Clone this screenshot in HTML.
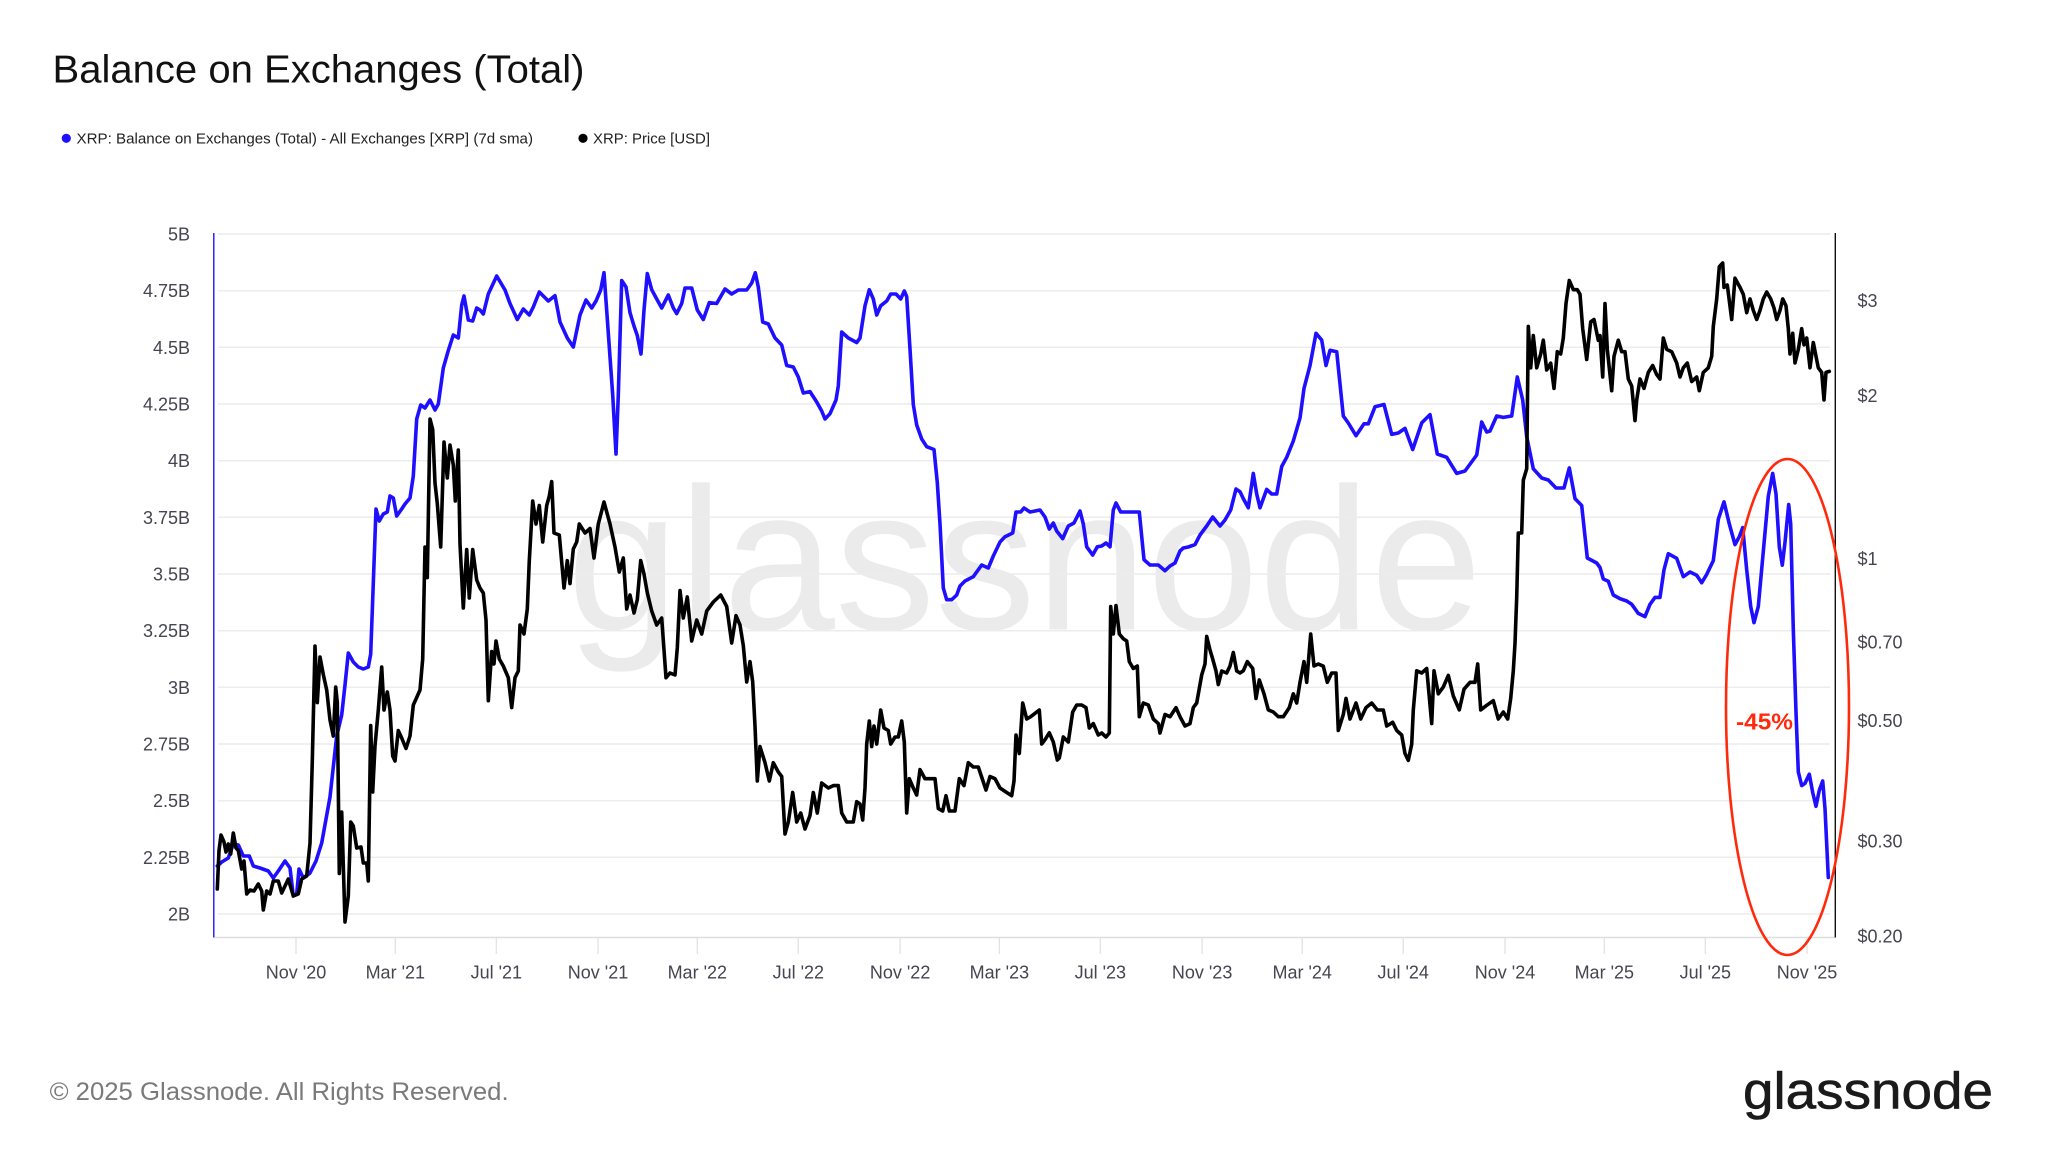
<!DOCTYPE html>
<html>
<head>
<meta charset="utf-8">
<style>
  html,body{margin:0;padding:0;background:#fff;}
  svg{display:block;}
  text{font-family:"Liberation Sans",Arial,sans-serif;}
</style>
</head>
<body>
<svg width="2048" height="1152" viewBox="0 0 2048 1152" xmlns="http://www.w3.org/2000/svg">
  <rect x="0" y="0" width="2048" height="1152" fill="#ffffff"/>

  <!-- Title -->
  <text x="52.5" y="82.7" font-size="39" fill="#111111" textLength="532" lengthAdjust="spacingAndGlyphs">Balance on Exchanges (Total)</text>

  <!-- Legend -->
  <circle cx="66.3" cy="138.3" r="4.6" fill="#1f0fff"/>
  <text x="76.5" y="143.7" font-size="15" fill="#222222" textLength="456.5" lengthAdjust="spacingAndGlyphs">XRP: Balance on Exchanges (Total) - All Exchanges [XRP] (7d sma)</text>
  <circle cx="583" cy="138.3" r="4.6" fill="#000000"/>
  <text x="593" y="143.7" font-size="15" fill="#222222" textLength="117" lengthAdjust="spacingAndGlyphs">XRP: Price [USD]</text>

  <!-- Watermark -->
  <text x="567" y="629.5" font-size="203" fill="#ebebeb" textLength="915" lengthAdjust="spacingAndGlyphs">glassnode</text>

  <!-- Gridlines -->
  <g stroke="#ececec" stroke-width="1.5">
    <line x1="218" y1="234" x2="1830" y2="234"/>
    <line x1="218" y1="290.7" x2="1830" y2="290.7"/>
    <line x1="218" y1="347.3" x2="1830" y2="347.3"/>
    <line x1="218" y1="404" x2="1830" y2="404"/>
    <line x1="218" y1="460.7" x2="1830" y2="460.7"/>
    <line x1="218" y1="517.3" x2="1830" y2="517.3"/>
    <line x1="218" y1="574" x2="1830" y2="574"/>
    <line x1="218" y1="630.7" x2="1830" y2="630.7"/>
    <line x1="218" y1="687.3" x2="1830" y2="687.3"/>
    <line x1="218" y1="744" x2="1830" y2="744"/>
    <line x1="218" y1="800.7" x2="1830" y2="800.7"/>
    <line x1="218" y1="857.3" x2="1830" y2="857.3"/>
    <line x1="218" y1="914" x2="1830" y2="914"/>
  </g>

  <!-- Bottom axis + ticks -->
  <line x1="215" y1="937.5" x2="1835" y2="937.5" stroke="#dedede" stroke-width="1.5"/>
  <g stroke="#e2e2e2" stroke-width="1.3">
    <line x1="296" y1="938" x2="296" y2="954"/>
    <line x1="395.3" y1="938" x2="395.3" y2="954"/>
    <line x1="496.3" y1="938" x2="496.3" y2="954"/>
    <line x1="598" y1="938" x2="598" y2="954"/>
    <line x1="697.3" y1="938" x2="697.3" y2="954"/>
    <line x1="798.3" y1="938" x2="798.3" y2="954"/>
    <line x1="900.1" y1="938" x2="900.1" y2="954"/>
    <line x1="999.4" y1="938" x2="999.4" y2="954"/>
    <line x1="1100.3" y1="938" x2="1100.3" y2="954"/>
    <line x1="1202.1" y1="938" x2="1202.1" y2="954"/>
    <line x1="1302.2" y1="938" x2="1302.2" y2="954"/>
    <line x1="1403.2" y1="938" x2="1403.2" y2="954"/>
    <line x1="1505" y1="938" x2="1505" y2="954"/>
    <line x1="1604.3" y1="938" x2="1604.3" y2="954"/>
    <line x1="1705.3" y1="938" x2="1705.3" y2="954"/>
    <line x1="1807" y1="938" x2="1807" y2="954"/>
  </g>

  <!-- Axis lines -->
  <line x1="213.8" y1="233" x2="213.8" y2="937.5" stroke="#1f0fff" stroke-width="1.4"/>
  <line x1="1835.3" y1="233" x2="1835.3" y2="937.5" stroke="#111111" stroke-width="1.4"/>

  <!-- Left axis labels -->
  <g font-size="18" fill="#454552" text-anchor="end">
    <text x="190" y="240.5">5B</text>
    <text x="190" y="297.2">4.75B</text>
    <text x="190" y="353.8">4.5B</text>
    <text x="190" y="410.5">4.25B</text>
    <text x="190" y="467.2">4B</text>
    <text x="190" y="523.8">3.75B</text>
    <text x="190" y="580.5">3.5B</text>
    <text x="190" y="637.2">3.25B</text>
    <text x="190" y="693.8">3B</text>
    <text x="190" y="750.5">2.75B</text>
    <text x="190" y="807.2">2.5B</text>
    <text x="190" y="863.8">2.25B</text>
    <text x="190" y="920.5">2B</text>
  </g>

  <!-- Right axis labels -->
  <g font-size="18" fill="#454552">
    <text x="1857.5" y="307">$3</text>
    <text x="1857.5" y="402">$2</text>
    <text x="1857.5" y="565">$1</text>
    <text x="1857.5" y="648.5">$0.70</text>
    <text x="1857.5" y="727">$0.50</text>
    <text x="1857.5" y="847.5">$0.30</text>
    <text x="1857.5" y="942.5">$0.20</text>
  </g>

  <!-- X axis labels -->
  <g font-size="18" fill="#454552" text-anchor="middle">
    <text x="296" y="978.5">Nov '20</text>
    <text x="395.3" y="978.5">Mar '21</text>
    <text x="496.3" y="978.5">Jul '21</text>
    <text x="598" y="978.5">Nov '21</text>
    <text x="697.3" y="978.5">Mar '22</text>
    <text x="798.3" y="978.5">Jul '22</text>
    <text x="900.1" y="978.5">Nov '22</text>
    <text x="999.4" y="978.5">Mar '23</text>
    <text x="1100.3" y="978.5">Jul '23</text>
    <text x="1202.1" y="978.5">Nov '23</text>
    <text x="1302.2" y="978.5">Mar '24</text>
    <text x="1403.2" y="978.5">Jul '24</text>
    <text x="1505" y="978.5">Nov '24</text>
    <text x="1604.3" y="978.5">Mar '25</text>
    <text x="1705.3" y="978.5">Jul '25</text>
    <text x="1807" y="978.5">Nov '25</text>
  </g>

  <!-- Blue series: Balance on Exchanges -->
  <polyline fill="none" stroke="#1f0fff" stroke-width="3.6" stroke-linejoin="round" stroke-linecap="round" points="
217.3,866 221.7,862 228.3,858 233.3,844 238.3,845 243.3,856 249.3,856 253.3,866 260,868 268.3,871 273.3,878 278.3,871 285,861 290,868 293.3,896 296.7,894 299,869 303.3,878 310,873 316,861 321.7,843 330,797 336.7,736 341.7,715 345,685 348.3,653 353.3,662 358.3,667 363.3,669 368.3,667 370.7,654 373.3,583 376,509 379.3,521 383.3,514 387.3,512 390,496 393.3,498 396.7,516 401.7,509 405,504 410,498 413.3,476 416.7,419 420.7,405 425,408 430,400 435,410 438.3,404 443.3,368 448.3,350.5 453.3,335 458.3,338 461.7,305 464,296 468.3,320 472.7,321 476.7,308
480,310 483.3,314 488.3,294 496.7,276 505,290 510,303.5 517.3,319.5 523.3,309 529.3,315 533.3,307 539.3,292 548.3,301 555,295.7 560,322 567.3,338 573.3,347 580,315 586,300 591.7,308 596,301 600.7,290 604,272.7 608.3,333 612.7,395 616,454 618.3,395 621.7,280.5 626,287 630,312.7 634,326 637.3,335.6 641,354 644,310 647.3,273.6 651.7,289.7 656.7,299 661.7,308 668.3,295 673.3,308 676.7,313.6 681.7,303.5 685,288 691.7,288 697.3,310 703.3,319.5 709.3,302.6 716.7,303.5 725,289 731.7,294 738.3,290 746.7,290 751.7,283 755.3,272.7 758.3,287 762.7,322 768.3,324 775,338 781.7,345 786.7,365.5 793.3,367 798.3,377 803.3,393 810,391.6 816.7,402 821.7,411 825,419 830,413.7 836,400 838.3,386 841.7,332 848.3,338 856.7,342.5
860,338 865,305.8 869.3,289.7 873.3,299 876.7,315 880.7,305.8 886.7,301 890.7,294 896,294 900.7,299 904.3,291 906.7,296.6 910,349 913.3,404.5 916.7,425 921.7,439 926.7,446.7 934,449.5 937.3,482.6 940,524 943.3,588 946.7,599.7 951.7,599.7 956.7,595 960,586 965,581 973.3,576.7 981.7,565 988.3,568 993.3,556 1000,542 1005,536.7 1012.7,533 1016,512 1020.7,512 1024,508 1030,512 1040,510 1045,517 1049.3,529 1053.3,523 1056.7,531 1062.7,538.6 1068.3,526 1074,523 1080,511 1083.3,524 1086.7,546.8 1092.7,555 1097.3,546.8 1101.7,546 1106,543 1110,546.8 1113.3,510 1116,503 1120.7,512 1133.3,512 1139.3,512 1144,559.7 1150,565 1158.3,565 1165,570.7 1170,566 1175,563 1180,551 1183.3,548 1188.3,547 1195,544.6 1200,535 1206.7,526 1212.7,517 1220,526 1225,520 1230.7,510 1236,489
1240,491.7 1243.3,498.6 1248.3,507.8 1253.3,473.4 1256.7,494 1260,507.8 1266.7,489.4 1271.7,494 1276.7,494 1281.7,466.5 1286.7,457.3 1293.3,441 1300,418 1304,388.4 1310,365.5 1316,333.3 1321.7,340 1326,365.5 1330,350.3 1336.7,351.7 1343.3,416 1348.3,423 1356,435.7 1364,423.8 1368.3,423.8 1375,406.8 1384,404.5 1391.7,434.3 1398.3,433 1405,428.4 1412.7,449.5 1421.7,422.9 1430,414.6 1437.3,454 1446.7,457.3 1456.7,473.4 1465,471 1476.7,455 1481.7,422 1486.7,432 1490,431 1496.7,416 1503.3,417.4 1511.7,416 1517.3,377 1522.7,400 1526.7,436.6 1533.3,468.8 1541.7,478 1548.3,480 1556,488 1564,488 1569.3,467.9 1575,498.6 1581.7,505.5 1587.3,558 1596.7,563
1600,567.5 1603.3,579 1608.3,581.3 1613.3,595 1620,598.7 1626.7,601 1631.7,604.3 1638.3,613.4 1645,616.6 1650,604.3 1655,597.4 1660,597.4 1664,569.8 1668.3,553.7 1676.7,558.3 1683.3,576.7 1690,572 1696.7,575.3 1701.7,582.7 1706.7,574.4 1713.3,560.6 1718.3,519.3 1724,501.8 1729.3,523.9 1735,544.6 1739.3,536.7 1742.7,527.6 1746.7,569.8 1750.7,606.5 1754,622.6 1758.3,606.5 1763.3,551.4 1768.3,496.3 1772.7,473.4 1776,494 1779.3,546.8 1782.3,565.2 1785,542.3 1788.7,504.6 1790.7,523.9 1793.3,629.5 1796,712.2 1798.3,771.9 1801.7,785.6 1805,783.3 1809.3,774.2 1812.7,792.5 1816,806.3 1819.3,790.2 1822.7,781 1825,808.6 1828.3,877.5"/>

  <!-- Black series: Price -->
  <polyline fill="none" stroke="#000000" stroke-width="3.6" stroke-linejoin="round" stroke-linecap="round" points="
217.3,889 219,850.5 221,835 224,842 226,852 228.3,844 230.7,854 233.3,833 236,848 238.3,850.5 241.7,869 244,861 246.7,894 250,890 254,891 258.3,884 261.7,891 263.3,910 266.7,891 270,894 273.3,881 278.3,881 281.7,893 285,886 288.3,879 293.3,896 298.3,894 301.7,879 306.7,876 310,843 312.3,761 315,646 317.3,702.6 320,657 323.3,674.5 326.7,690 330,720 333.3,736 335.7,687 337.3,702.6 339.3,873.5 341.7,812 345,922 348.3,896 350.7,822 353.3,826 356.7,848 361,847 363.3,863 366.7,863 368.3,881 370.7,725.5 372.7,792 375,746 378.3,710 381.7,667 384,710 387.3,692 390,710 392.7,756 395,761 398.3,730.6 401.7,738 406,748.5 410,736 413.3,705 416.7,697.5 420,690 422.7,659 425,547 427.3,577.6 430,419 432.7,429.6 435,483 437.3,503.6 440.7,547 444,442 447.3,478 450,445 453.3,465 455.3,501 458.3,450 460,544 463.3,608 466.7,549.5 469.3,598 472.7,549.5 476.7,580
480,588 483.3,593 486,620 488.3,700.7 491.7,651.5 494,664 496,641 499.3,659 503.3,666 508.3,677.7 511.7,707.6 515,677.7 518.3,671 520,625 524,634 527.3,609 529.3,560.6 532.7,501 536,524 539.3,505.5 542.7,542 546.7,505.5 549.3,496 551.7,481.6 554,533 559.3,535 564,588 567.3,560.6 570,583.6 573.3,549 576.7,542 579.3,524 585,533 590,528.5 594,558 598.3,524 604,502 610,524 615,547 619.3,572 623.3,558 626.7,609 630,595 634,613 637.3,599.7 640.7,560.6 644,574 647.3,592.8 651.7,611 656.7,625 661.7,618 666,677.7 670,673 675,675 677.3,648 680,590.5 683.3,618 687.3,597 691.7,641 696.7,620 701.7,634 706.7,611 713.3,602 720.7,595 726.7,606.5 731.7,643 736,615.7 740,625 743.3,645.6 746.7,682 750,661.6 752.7,682 755,726 757.3,781 760,746.6 765,762.7 769.3,781 773.3,762.7 778.3,772 781.7,776.5 785,834 788.3,822 792.7,792.5 796.7,822 800.7,813 805,829 810,815.5 813.3,792.5 817.3,813 821.7,783 828.3,788 833.3,785.6 838.3,785.6 841.7,813 846.7,822 853.3,822 856.7,801.7
860,804 862.7,820 865,788 866.7,744 869.3,721 871.7,746.6 874,726 876.7,744 880.7,710 884,728 888.3,730.5 890.7,744 895,737 898.3,737 901.7,721 904.3,742 906.7,813 909.3,778.7 913.3,788 916.7,795 920,769.6 925,778.7 930,778.7 935,778.7 938.3,808.6 942.7,811 946,795.7 949.3,811 955,811 959.3,778.7 964,785.6 968.3,762.7 973.3,767 978.3,767 986,790 990,776.5 995,778.7 1000,788 1006.7,792.5 1011.7,795.7 1014,781 1016,735 1019.3,753.5 1022.7,703 1026.7,719 1030.7,716.7 1039.3,710 1041.7,744 1045,739.7 1049.3,732.8 1053.3,742 1057.3,760 1059.3,758 1063.3,737 1068.3,742 1072.7,712 1076.7,705 1081.7,705 1086,707.6 1089.3,728 1093.3,723.6 1098.3,735 1101.7,733 1106,737 1109.3,733 1110.7,606.5 1113.3,634 1116,605.6 1119.3,634 1123.3,638.7 1126.7,641 1129.3,661.6 1133.3,668.5 1137.3,666 1139.3,716.7 1143.3,703 1148.3,705 1153.3,719 1158.3,723.6 1160,733 1165,714.5 1170,716.7 1176,707.6 1180,716.7 1185,726 1190,723.6 1193.3,707.6 1196.7,703 1201.7,675 1205,664 1206.7,636.4 1210,650 1212.7,659 1216,671 1218.3,684.6 1221.7,671 1226.7,673 1230,666 1233.3,652.5 1236.7,671
1240,673 1243.3,670.8 1247.3,661.6 1252.7,668.5 1256,698.4 1259.3,680 1264,693.8 1268.3,709.9 1273.3,712 1278.3,716.7 1283.3,716.7 1289.3,707.6 1293.3,693.8 1296.7,703 1300,682.3 1304,661.6 1306.7,682.3 1310.7,634 1314,666 1318.3,664 1323.3,666.2 1327.3,682.3 1331.7,673 1336,673 1338.3,730.5 1343.3,714.5 1346,698.4 1350,719 1356,703 1360.7,719 1366,707.6 1371.7,703 1377.3,710 1383.3,710 1386.7,726 1392.7,722.3 1396.7,730.5 1401.7,735 1405,753.5 1408.3,760.4 1411.7,744.3 1413.3,710 1416.7,670.8 1421.7,673 1426.7,668.5 1431.7,723.6 1434,670.8 1438.3,693.8 1443.3,687 1448.3,675.4 1453.3,696 1459.3,709.9 1464,689.2 1470,682.3 1475,682.3 1477.7,664 1480.7,709.9 1486.7,705.3 1493.3,700.7 1498.3,719 1503.3,712 1507.7,719 1510.7,698.4 1513.3,670.8 1515,643.3 1516.7,597.4 1518.3,533 1521.7,533 1523.3,480.3 1526.7,468.8 1528.3,326.4 1530.7,367.8 1533.3,335.6 1536.7,367.8 1540.7,354 1543.3,340.2 1546.7,370 1550.7,363.2 1554,388.4 1557.3,351.7 1560.7,354 1563.3,338 1566,303.5 1569.3,280.5 1573.3,289.7 1577.3,289.7 1580,294.3 1582.7,328.7 1586.7,359.5 1590.7,321.8 1594,319.5 1598.3,340.2
1600,335.6 1602.7,377 1605,303.5 1607.3,349.4 1611.7,390.7 1614,356.3 1618.3,340.2 1621.7,351.7 1625,351.7 1628.3,379 1631.7,386 1635,420.6 1636.7,400 1640,379 1644,388.4 1648.3,372.4 1652.7,365.5 1656.7,374.6 1660,379 1663.3,338 1666.7,349.4 1671.7,351.7 1676.7,363 1680,377 1683.3,367.8 1687.3,363 1691.7,381.5 1696.7,377 1699.3,390.7 1703.3,372.4 1708.3,367.8 1711.7,356.3 1713.3,326.4 1716.7,298.9 1719.3,266.7 1722.7,263 1724,287.4 1727.3,285 1731.7,319.5 1735,278.2 1740,287.4 1743.3,294.3 1746.7,312.7 1750,298.9 1753.3,310.4 1756.7,319.5 1760,310.4 1763.3,298.9 1766.7,292 1770.7,298.9 1774,308 1776.7,319.5 1780,310.4 1782.7,298.9 1786,305.8 1788.3,328.7 1790,354 1792.7,333.3 1795,363 1798.3,349.4 1801.7,328.7 1804,344.8 1806.7,338 1810,367.8 1813.3,342.5 1816,356.3 1818.3,367.8 1821.7,372.4 1824,400 1826,372.4 1829.3,371.4"/>

  <!-- Annotation -->
  <ellipse cx="1787.5" cy="707" rx="61.5" ry="248" fill="none" stroke="#ff2a0c" stroke-width="2.6"/>
  <text x="1736" y="729.5" font-size="23" font-weight="bold" fill="#ff2a0c" textLength="57" lengthAdjust="spacingAndGlyphs">-45%</text>

  <!-- Footer -->
  <text x="49.6" y="1100" font-size="25" fill="#7a7a7a" textLength="459" lengthAdjust="spacingAndGlyphs">© 2025 Glassnode. All Rights Reserved.</text>
  <text x="1743" y="1108.3" font-size="52" fill="#1a1a1a" stroke="#1a1a1a" stroke-width="0.6" textLength="250" lengthAdjust="spacingAndGlyphs">glassnode</text>
</svg>
</body>
</html>
